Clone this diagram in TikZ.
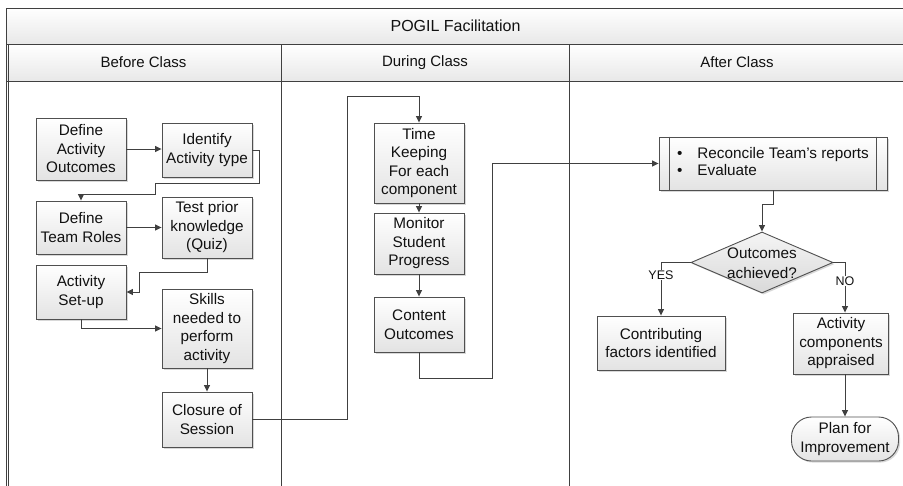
\documentclass[tikz,border=0pt]{standalone}
\usepackage{fontspec}
\setmainfont{Liberation Sans}
\usetikzlibrary{arrows.meta,shapes.geometric,shadows,calc}
\definecolor{ln}{HTML}{404040}
\definecolor{bd}{HTML}{505050}
\definecolor{tx}{HTML}{111111}
\definecolor{hdr}{HTML}{E8E8E8}
\begin{document}
\begin{tikzpicture}[x=1pt,y=-1pt,
  box/.style={rectangle, draw=bd, line width=0.9pt, top color=white, bottom color=gray!22,
    drop shadow={shadow xshift=1.6pt,shadow yshift=-1.6pt,opacity=0.3,fill=gray},
    inner sep=0pt, align=center, text=tx, font=\fontsize{15.3}{18.5}\selectfont},
  band/.style={rectangle, draw=ln, line width=0.9pt, top color=white, bottom color=hdr,
    inner sep=0pt, text=tx},
  conn/.style={draw=ln, line width=0.9pt, -{Triangle[length=6.5pt,width=6pt]}},
  lane/.style={draw=ln, line width=0.9pt},
  lbl/.style={fill=white, inner sep=1pt, text=tx, font=\fontsize{12.5}{14}\selectfont}]
\useasboundingbox (0,0) rectangle (903,485);
\clip (0,0) rectangle (903,485);
\fill[white] (0,0) rectangle (903,485);

% pool header
\node[band, minimum width=899pt, minimum height=36pt, font=\fontsize{16}{19}\selectfont] (title) at (455.5,26) {POGIL Facilitation};
\node[band, minimum width=275pt, minimum height=37pt, font=\fontsize{15}{18}\selectfont] (hbefore) at (143.5,62.5) {Before Class};
\node[band, minimum width=288pt, minimum height=37pt, font=\fontsize{15}{18}\selectfont] (hduring) at (425,62.5) {During Class};
\node[band, minimum width=336pt, minimum height=37pt, font=\fontsize{15}{18}\selectfont] (hafter) at (737,62.5) {After Class};

% lanes
\draw[lane] (6,8) -- (6,490);
\draw[lane] (8.5,44) -- (8.5,490);
\draw[lane] (281,44) -- (281,490);
\draw[lane] (569,44) -- (569,490);

% Before Class
\node[box, minimum width=90pt, minimum height=62pt] (dao) at (81,149) {Define\\Activity\\Outcomes};
\node[box, minimum width=90pt, minimum height=54pt] (iat) at (207,150) {Identify\\Activity type};
\node[box, minimum width=90pt, minimum height=53pt] (dtr) at (81,227.5) {Define\\Team Roles};
\node[box, minimum width=90pt, minimum height=61pt] (tpk) at (207,227.5) {Test prior\\knowledge\\(Quiz)};
\node[box, minimum width=90pt, minimum height=54pt] (asu) at (81,292) {Activity\\Set-up};
\node[box, minimum width=90pt, minimum height=79pt] (skl) at (207,328.5) {Skills\\needed to\\perform\\activity};
\node[box, minimum width=90pt, minimum height=55pt] (cos) at (207,419.5) {Closure of\\Session};

% During Class
\node[box, minimum width=90pt, minimum height=80pt] (tk) at (419,163) {Time\\Keeping\\For each\\component};
\node[box, minimum width=90pt, minimum height=61pt] (msp) at (419,243.5) {Monitor\\Student\\Progress};
\node[box, minimum width=90pt, minimum height=55pt] (co) at (419,324.5) {Content\\Outcomes};

% After Class
\node[box, minimum width=228pt, minimum height=53pt] (rec) at (773,163.5)
  {\begin{tabular}{@{}l@{\hspace{15pt}}l@{}}\textbullet & Reconcile Team’s reports\\[-1pt] \textbullet & Evaluate\end{tabular}};
\draw[draw=bd, line width=0.9pt] ([xshift=11pt]rec.north west) -- ([xshift=11pt]rec.south west);
\draw[draw=bd, line width=0.9pt] ([xshift=-11pt]rec.north east) -- ([xshift=-11pt]rec.south east);

\node[diamond, draw=bd, line width=0.9pt, top color=gray!8, bottom color=gray!30,
  minimum width=142pt, minimum height=61pt, inner sep=0pt,
  drop shadow={shadow xshift=1.6pt,shadow yshift=-1.6pt,opacity=0.3,fill=gray}] (dia) at (762,262.5) {};
\node[align=center, text=tx, inner sep=0pt, font=\fontsize{15.3}{20}\selectfont] (diat) at (762,263) {Outcomes\\achieved?};

\node[box, minimum width=128pt, minimum height=54pt] (cfi) at (661,343) {Contributing\\factors identified};
\node[box, minimum width=95pt, minimum height=61pt] (aca) at (841,343.5) {Activity\\components\\appraised};
\node[box, rounded corners=20pt, minimum width=107pt, minimum height=44pt] (plan) at (845,439) {Plan for\\Improvement};

% connectors
\draw[conn] (dao.east) -- (dao.east -| iat.west);
\draw[conn] (iat.east) -- ++(7,0) |- (155,183) |- (81,194) -- (dtr.north);
\draw[conn] (dtr.east) -- (dtr.east -| tpk.west);
\draw[conn] (tpk.south) |- (139,272) |- (asu.east);
\draw[conn] (asu.south) |- (skl.west);
\draw[conn] (skl.south) -- (cos.north);
\draw[conn] (cos.east) -| (347,96) -| (tk.north);
\draw[conn] (tk.south) -- (msp.north);
\draw[conn] (msp.south) -- (co.north);
\draw[conn] (co.south) |- (492,378) |- (rec.west);
\draw[conn] (rec.south) -- ++(0,14) -| (dia.north);
\draw[conn] (dia.west) -| (cfi.north);
\draw[conn] (dia.east) -| ([xshift=4pt]aca.north);
\draw[conn] ([xshift=4pt]aca.south) -- (plan.north);
\node[lbl] (yes) at (661,275) {YES};
\node[lbl] (no) at (845,281) {NO};
\end{tikzpicture}
\end{document}
